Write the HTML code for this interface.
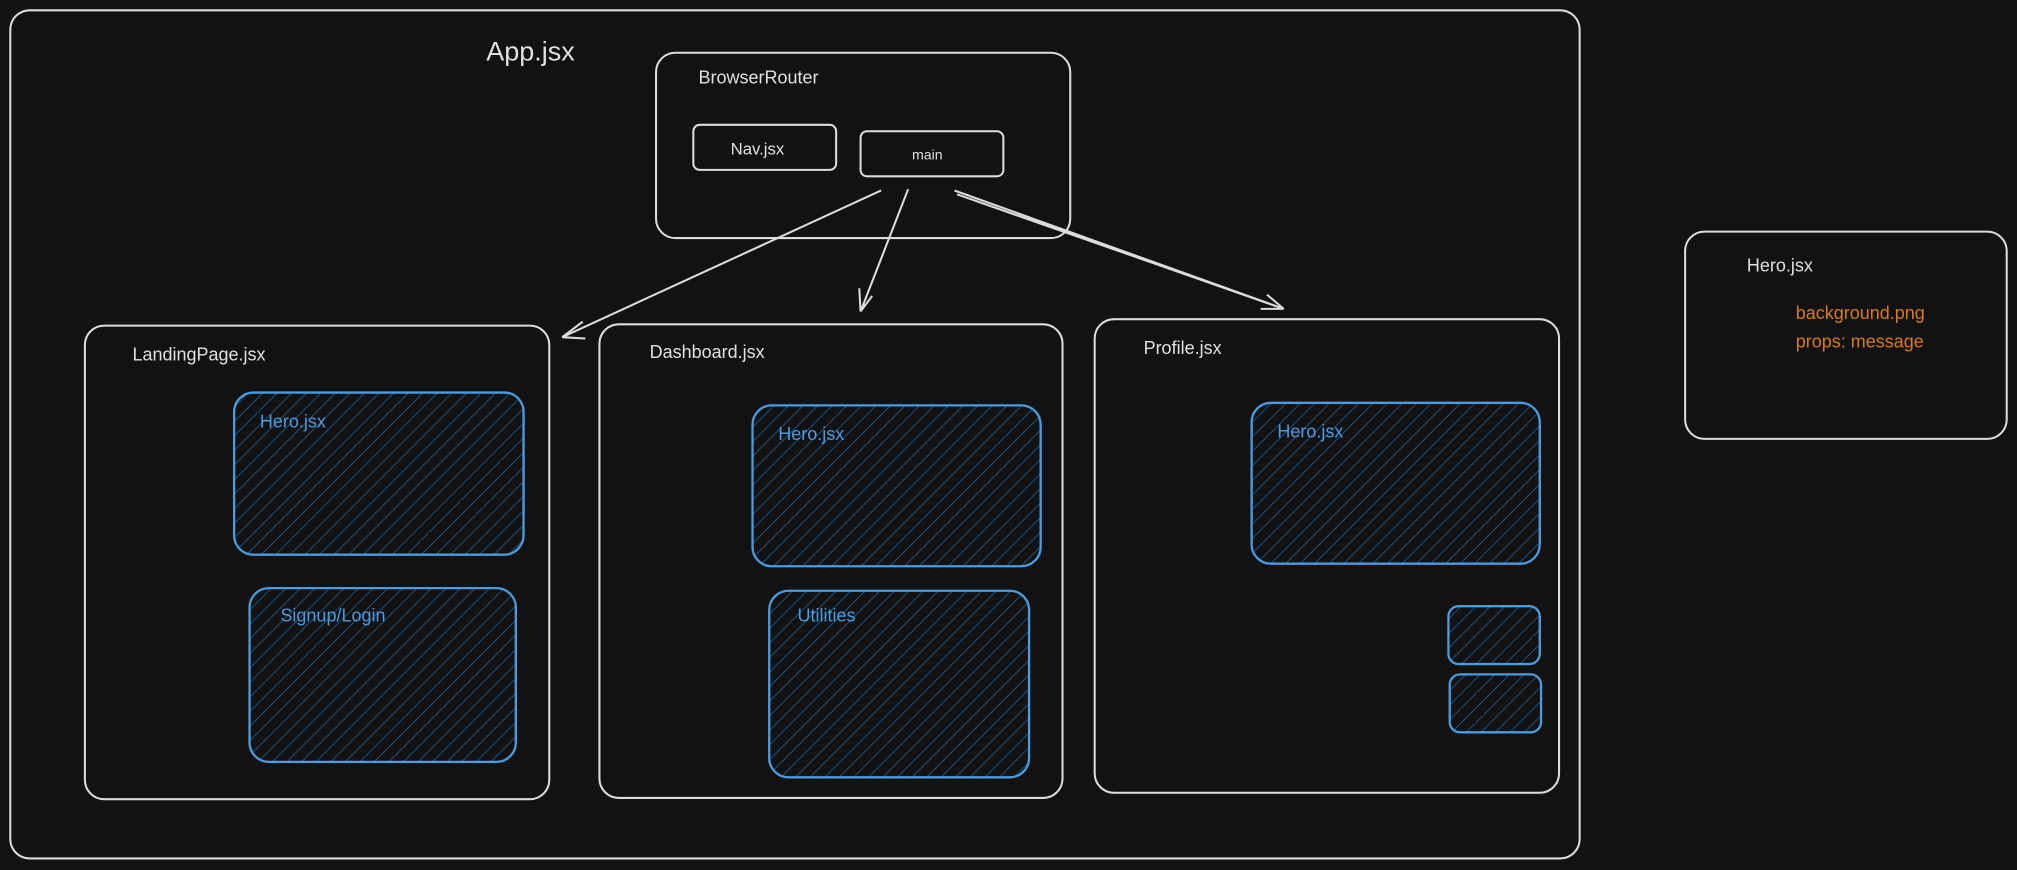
<!DOCTYPE html>
<html><head><meta charset="utf-8"><style>
html,body{margin:0;padding:0;background:#121212;}
svg{display:block;}
text{font-family:"Liberation Sans",sans-serif;}
</style></head><body>
<svg width="2017" height="870" viewBox="0 0 1568 676" preserveAspectRatio="none" xmlns="http://www.w3.org/2000/svg">
<defs>
<pattern id="h" patternUnits="userSpaceOnUse" width="8" height="8" patternTransform="rotate(45)">
<line x1="0" y1="0" x2="0" y2="8" stroke="#1f5e92" stroke-width="1.3"/>
</pattern>
</defs>
<rect width="1568" height="676" fill="#121212"/>
<g fill="none" stroke="#dcdcdc" stroke-width="1.6">
<rect x="8" y="8" width="1220" height="659" rx="15"/>
<rect x="510" y="41" width="322" height="144" rx="15"/>
<rect x="539" y="97" width="111" height="35" rx="5"/>
<rect x="669" y="102" width="111" height="35" rx="5"/>
<rect x="66" y="253" width="361" height="368" rx="15"/>
<rect x="466" y="252" width="360" height="368" rx="15"/>
<rect x="851" y="248" width="361" height="368" rx="15"/>
<rect x="1310" y="180" width="250" height="161" rx="15"/>
<path d="M685 148 L437 262 M437 262 L453 250 M437 262 L455 263"/>
<path d="M706 147 L669 242 M669 242 L668 224 M669 242 L678 230"/>
<path d="M742 148 L998 240 M744 151 L998 240 M998 240 L985 229 M998 240 L980 240"/>
</g>
<g fill="url(#h)" stroke="#4a9be0" stroke-width="1.8">
<rect x="182" y="305" width="225" height="126" rx="15"/>
<rect x="194" y="457" width="207" height="135" rx="15"/>
<rect x="585" y="315" width="224" height="125" rx="15"/>
<rect x="598" y="459" width="202" height="145" rx="15"/>
<rect x="973" y="313" width="224" height="125" rx="15"/>
<rect x="1126" y="471" width="71" height="45" rx="8"/>
<rect x="1127" y="524" width="71" height="45" rx="8"/>
</g>
<g fill="#e0e0e0">
<text x="378" y="47" font-size="21">App.jsx</text>
<text x="543" y="65" font-size="14">BrowserRouter</text>
<text x="568" y="120" font-size="13">Nav.jsx</text>
<text x="709" y="124" font-size="11">main</text>
<text x="103" y="280" font-size="14">LandingPage.jsx</text>
<text x="505" y="278" font-size="14">Dashboard.jsx</text>
<text x="889" y="275" font-size="14">Profile.jsx</text>
<text x="1358" y="211" font-size="14">Hero.jsx</text>
</g>
<g fill="#4a9be0" font-size="14">
<text x="202" y="332">Hero.jsx</text>
<text x="218" y="483">Signup/Login</text>
<text x="605" y="342">Hero.jsx</text>
<text x="620" y="483">Utilities</text>
<text x="993" y="340">Hero.jsx</text>
</g>
<g fill="#d97a1a" font-size="14">
<text x="1396" y="248">background.png</text>
<text x="1396" y="270">props: message</text>
</g>
</svg>
</body></html>
